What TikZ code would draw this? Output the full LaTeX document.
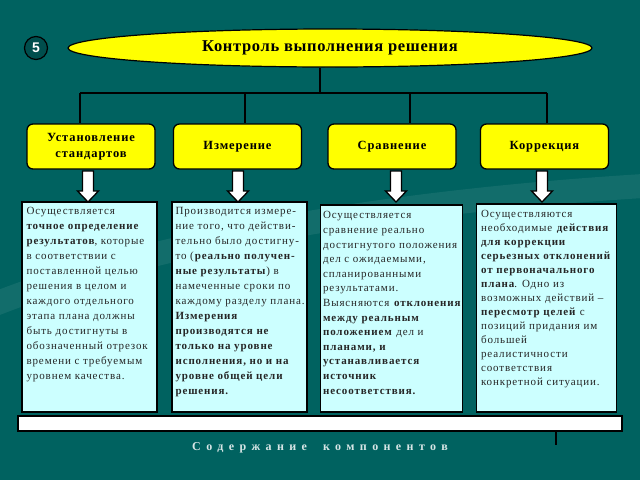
\documentclass[tikz,border=0pt]{standalone}
\usepackage{fontspec}
\setmainfont{Liberation Serif}
\newfontfamily\numfont{Liberation Sans}
\usetikzlibrary{shapes.geometric,positioning}
\definecolor{bgteal}{RGB}{0,98,96}
\definecolor{boxcyan}{RGB}{204,255,255}
\definecolor{hdyellow}{RGB}{255,255,0}
\definecolor{captext}{RGB}{215,230,230}
\begin{document}
\begin{tikzpicture}[x=1pt,y=-1pt,
	header/.style={ ellipse, draw, line width=1.2pt, fill=hdyellow, minimum width=524pt, minimum height=38pt, inner sep=0pt, font=\bfseries\fontsize{16.5}{18}\selectfont\addfontfeature{LetterSpace=4} },
	stage/.style={ draw, line width=1.3pt, rounded corners=6pt, fill=hdyellow, minimum width=128pt, minimum height=45pt, inner sep=1pt, align=center, font=\bfseries\fontsize{12.5}{16}\selectfont\addfontfeature{LetterSpace=7} },
	infobox/.style={ draw, line width=1.3pt, fill=boxcyan, inner sep=0pt },
	infotext/.style={ anchor=north west, align=left, inner sep=0pt, text=black!85, font=\fontsize{11}{15}\selectfont\addfontfeature{LetterSpace=8} },
	blockarrow/.style={ draw, line width=1.3pt, fill=white, line join=miter }
]

\fill[bgteal] (0,0) rectangle (640,480);
\useasboundingbox (0,0) rectangle (640,480);
\draw[line width=24pt, bgteal!93!white, line cap=round]
  (-20,310) .. controls (150,240) and (400,200) .. (660,185);

\node at (36,48) (num) [circle, draw=black, line width=1.2pt, fill=bgteal!80!black, minimum size=23pt, inner sep=0pt, text=white, font=\numfont\bfseries\fontsize{14}{14}\selectfont] {5};
\node at (330,48) (head) [header] {Контроль выполнения решения};

\node at (91,146.5) (s1) [stage] {Установление\\стандартов};
\node at (237.5,146.5) (s2) [stage] {Измерение};
\node at (392,146.5) (s3) [stage] {Сравнение};
\node at (544.5,146.5) (s4) [stage] {Коррекция};

\coordinate (hub) at (320,93);
\coordinate (j1) at (80,93);
\coordinate (j2) at (245,93);
\coordinate (j3) at (410,93);
\coordinate (j4) at (547,93);
\draw[line width=1.2pt] (hub |- head.south) -- (hub);
\draw[line width=1.2pt] (j1) -- (j4);
\foreach \i in {1,...,4}
  \draw[line width=1.2pt] (j\i) -- (j\i |- s\i.north);

\node at (89.5,307) (b1) [infobox, minimum width=135pt, minimum height=210pt] {};
\node at (239.5,307) (b2) [infobox, minimum width=135pt, minimum height=210pt] {};
\node at (391.5,308.5) (b3) [infobox, minimum width=142pt, minimum height=207pt] {};
\node at (546.5,308) (b4) [infobox, minimum width=140pt, minimum height=208pt] {};

\coordinate (a1) at (88,171);
\coordinate (a2) at (238,171);
\coordinate (a3) at (396,171);
\coordinate (a4) at (542,171);
\foreach \i in {1,...,4}
  \draw[blockarrow] (a\i) ++(-5.5,0) -- ++(0,20) -- ++(-5,0) -- ++(10.5,11)
    -- ++(10.5,-11) -- ++(-5,0) -- ++(0,-20) -- cycle;

\node (t1) [infotext] at ([shift={(5,6)}]b1.north west) {Осуществляется\\
\textbf{точное определение}\\
\textbf{результатов}, которые\\
в соответствии с\\
поставленной целью\\
решения в целом и\\
каждого отдельного\\
этапа плана должны\\
быть достигнуты в\\
обозначенный отрезок\\
времени с требуемым\\
уровнем качества.};

\node (t2) [infotext] at ([shift={(4,6)}]b2.north west) {Производится измере-\\
ние того, что действи-\\
тельно было достигну-\\
то (\textbf{реально получен-}\\
\textbf{ные результаты}) в\\
намеченные сроки по\\
каждому разделу плана.\\
\textbf{Измерения}\\
\textbf{производятся не}\\
\textbf{только на уровне}\\
\textbf{исполнения, но и на}\\
\textbf{уровне общей цели}\\
\textbf{решения.}};

\node (t3) [infotext, font=\fontsize{11}{14.6}\selectfont\addfontfeature{LetterSpace=8}] at ([shift={(3,7)}]b3.north west) {Осуществляется\\
сравнение реально\\
достигнутого положения\\
дел с ожидаемыми,\\
спланированными\\
результатами.\\
Выясняются \textbf{отклонения}\\
\textbf{между реальным}\\
\textbf{положением} дел и\\
\textbf{планами, и}\\
\textbf{устанавливается}\\
\textbf{источник}\\
\textbf{несоответствия.}};

\node (t4) [infotext, font=\fontsize{11}{14}\selectfont\addfontfeature{LetterSpace=8}] at ([shift={(5,7)}]b4.north west) {Осуществляются\\
необходимые \textbf{действия}\\
\textbf{для коррекции}\\
\textbf{серьезных отклонений}\\
\textbf{от первоначального}\\
\textbf{плана}. Одно из\\
возможных действий –\\
\textbf{пересмотр целей} с\\
позиций придания им\\
большей\\
реалистичности\\
соответствия\\
конкретной ситуации.};

\node at (320,423.5) (bar) [draw, line width=1.3pt, fill=white, minimum width=604pt, minimum height=15pt, inner sep=0pt] {};
\coordinate (tick) at (556,445);
\draw[line width=1.2pt] (bar.south -| tick) -- (tick);
\node at (320,448) (cap) [text=captext, font=\bfseries\fontsize{12}{14}\selectfont] {\addfontfeature{LetterSpace=45}Содержание\hspace{16pt}компонентов};

\end{tikzpicture}
\end{document}
